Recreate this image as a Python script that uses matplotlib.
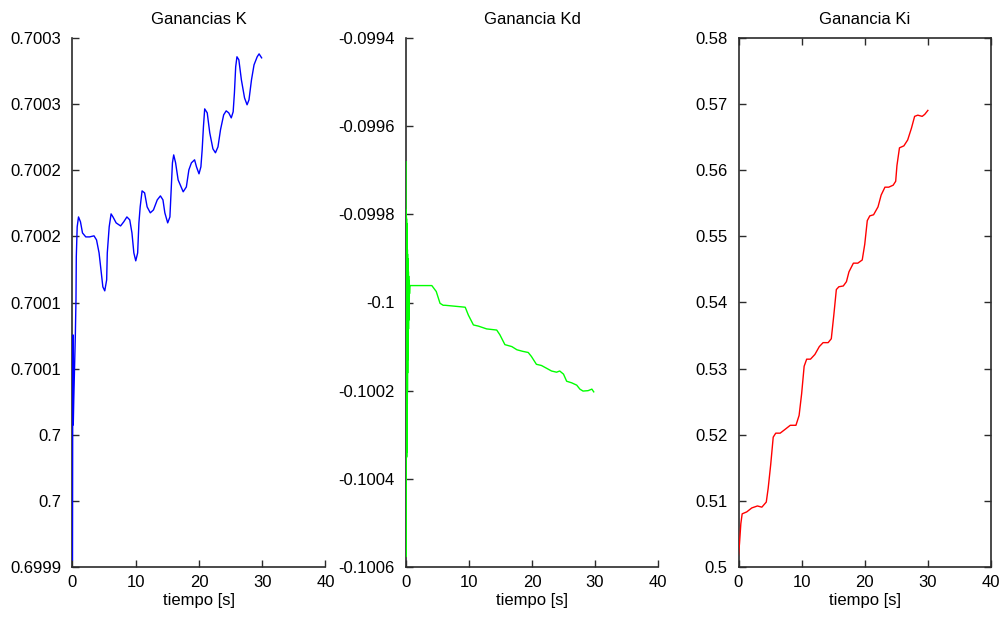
import numpy as np
import matplotlib
matplotlib.use("Agg")
import matplotlib.pyplot as plt

plt.rcParams['font.family'] = ['Liberation Sans', 'DejaVu Sans']

# Ganancia K (blue)
k_t = [0, 0.03, 0.08, 0.12, 0.2, 0.45, 0.55, 0.6, 0.74, 0.95, 1.26, 1.58, 2.1, 2.7, 3.4,
       3.8, 4.2, 4.5, 4.8, 5.1, 5.4, 5.5, 5.8, 6.1, 6.4, 6.9, 7.6, 8.1, 8.6, 9.05,
       9.4, 9.7, 10.0, 10.3, 10.5, 10.7, 11.0, 11.4, 11.8, 12.3, 12.8, 13.4, 13.9, 14.3,
       14.6, 15.05, 15.4, 15.6, 15.8, 16.0, 16.3, 16.7, 17.5, 18.0, 18.4, 18.8, 19.3,
       19.6, 20.0, 20.3, 20.5, 20.7, 20.9, 21.3, 21.7, 22.2, 22.6, 23.0, 23.4, 23.9,
       24.3, 24.7, 25.1, 25.4, 25.6, 25.8, 26.0, 26.3, 26.7, 27.2, 27.6, 27.9, 28.3,
       28.7, 29.2, 29.5, 29.9]
k_v = [0.6999053, 0.7000074, 0.7000755, 0.7000074, 0.7000263, 0.7000755, 0.7001020,
       0.7001345, 0.7001572, 0.7001647, 0.7001610, 0.7001526, 0.7001496, 0.7001496,
       0.7001504, 0.7001473, 0.7001375, 0.7001247, 0.7001118, 0.7001088, 0.7001171,
       0.7001375, 0.7001572, 0.7001670, 0.7001647, 0.7001602, 0.7001579, 0.7001610,
       0.7001647, 0.7001625, 0.7001526, 0.7001375, 0.7001315, 0.7001375, 0.7001602,
       0.7001723, 0.7001844, 0.7001829, 0.7001723, 0.7001678, 0.7001700, 0.7001776,
       0.7001806, 0.7001776, 0.7001678, 0.7001602, 0.7001647, 0.7001852, 0.7002056,
       0.7002116, 0.7002056, 0.7001927, 0.7001837, 0.7001874, 0.7002003, 0.7002056,
       0.7002079, 0.7002026, 0.7001973, 0.7002026, 0.7002154, 0.7002328, 0.7002464,
       0.7002434, 0.7002283, 0.7002162, 0.7002132, 0.7002177, 0.7002306, 0.7002419,
       0.7002449, 0.7002434, 0.7002396, 0.7002442, 0.7002585, 0.7002782, 0.7002858,
       0.7002835, 0.7002684, 0.7002547, 0.7002495, 0.7002532, 0.7002684, 0.7002797,
       0.7002858, 0.7002880, 0.7002850]

# Ganancia Kd (green): fast oscillation right after t=0, then slow drift
kd_t = [0, 0.01, 0.02, 0.03, 0.04, 0.05, 0.06, 0.07, 0.08, 0.09, 0.10, 0.11, 0.12,
        0.13, 0.14, 0.15, 0.16, 0.17, 0.18, 0.19, 0.20, 0.21, 0.22, 0.23, 0.24, 0.25,
        0.26, 0.27, 0.28, 0.29, 0.30, 0.32, 0.34, 0.36, 0.38, 0.40, 0.42, 0.44, 0.46,
        0.48, 0.50, 0.52, 0.54, 0.56, 0.6,
        2.0, 4.1, 4.8, 5.4, 5.9, 6.2, 9.4, 9.9, 10.7, 11.5, 12.8, 14.4, 14.9,
        15.7, 16.8, 17.6, 18.5, 19.4, 19.9, 20.7, 21.5, 22.3, 23.1, 23.9, 24.4, 25.0,
        25.5, 26.3, 27.1, 27.6, 28.1, 28.9, 29.5, 29.8]
kd_v = [-0.0996806, -0.1005766, -0.0997900, -0.1005000, -0.0998054, -0.1003527,
        -0.0998054, -0.1003527, -0.0998100, -0.1003500, -0.0998200, -0.1003400,
        -0.0998300, -0.1003300, -0.0998400, -0.1003100, -0.0998500, -0.1002900,
        -0.0998600, -0.1002600, -0.0998700, -0.1002300, -0.0998800, -0.1002000,
        -0.0998900, -0.1001600, -0.0999000, -0.1001300, -0.0999149, -0.1000851,
        -0.0999149, -0.1000851, -0.0999200, -0.1000800, -0.0999300, -0.1000600,
        -0.0999400, -0.1000400, -0.0999500, -0.1000200, -0.0999560, -0.1000000,
        -0.0999600, -0.0999800, -0.0999616,
        -0.0999616, -0.0999616,
        -0.0999750, -0.1000018, -0.1000063, -0.1000063, -0.1000107, -0.1000286,
        -0.1000509, -0.1000536, -0.1000599, -0.1000625, -0.1000732, -0.1000956,
        -0.1001000, -0.1001072, -0.1001107, -0.1001134, -0.1001223, -0.1001402,
        -0.1001429, -0.1001491, -0.1001554, -0.1001581, -0.1001554, -0.1001625,
        -0.1001786, -0.1001822, -0.1001875, -0.1001965, -0.1002009, -0.1002000,
        -0.1001965, -0.1002027]

# Ganancia Ki (red)
ki_t = [0, 0.16, 0.37, 0.58, 1.3, 2.1, 3.0, 3.7, 4.4, 4.7, 5.1, 5.5, 5.9, 6.6, 7.4, 8.2,
        9.1, 9.6, 10.0, 10.4, 10.8, 11.4, 12.1, 12.8, 13.4, 14.2, 14.7, 15.1, 15.5, 15.9,
        16.6, 17.1, 17.5, 18.2, 18.9, 19.6, 20.0, 20.4, 20.8, 21.4, 22.1, 22.6, 23.2,
        23.8, 24.5, 24.9, 25.1, 25.5, 26.2, 26.8, 27.4, 27.9, 28.4, 29.1, 29.5, 30.0]
ki_v = [0.50179, 0.50357, 0.50655, 0.50804, 0.50833, 0.50893, 0.50923, 0.50905, 0.50982,
        0.51190, 0.51548, 0.51964, 0.52024, 0.52024, 0.52083, 0.52143, 0.52143, 0.52292,
        0.52619, 0.53036, 0.53143, 0.53143, 0.53214, 0.53333, 0.53393, 0.53393, 0.53452,
        0.53810, 0.54196, 0.54238, 0.54250, 0.54315, 0.54464, 0.54595, 0.54595, 0.54643,
        0.54881, 0.55238, 0.55310, 0.55327, 0.55446, 0.55625, 0.55744, 0.55744, 0.55774,
        0.55833, 0.56071, 0.56339, 0.56369, 0.56458, 0.56637, 0.56815, 0.56833, 0.56815,
        0.56845, 0.56905]

x_ticks = [0, 10, 20, 30, 40]
k_yticks = [0.6999, 0.69995, 0.7, 0.70005, 0.7001, 0.70015, 0.7002, 0.70025, 0.7003]
k_yticklabels = ['0.6999', '0.7', '0.7', '0.7001', '0.7001', '0.7002', '0.7002', '0.7003', '0.7003']
kd_yticks = [-0.1006, -0.1004, -0.1002, -0.1, -0.0998, -0.0996, -0.0994]
kd_yticklabels = ['-0.1006', '-0.1004', '-0.1002', '-0.1', '-0.0998', '-0.0996', '-0.0994']
ki_yticks = [0.5, 0.51, 0.52, 0.53, 0.54, 0.55, 0.56, 0.57, 0.58]
ki_yticklabels = ['0.5', '0.51', '0.52', '0.53', '0.54', '0.55', '0.56', '0.57', '0.58']

W, H = 1003, 618
fig = plt.figure(figsize=(W / 100, H / 100), dpi=100)
fig.patch.set_facecolor('white')

FS = 12
SPINE = '#2b2b2b'


def make_axes(left, right, top=38, bottom=567):
    return fig.add_axes([left / W, 1 - bottom / H, (right - left) / W, (bottom - top) / H])


def style(ax, box):
    for s in ['top', 'right']:
        ax.spines[s].set_visible(box)
    for s in ax.spines.values():
        s.set_color(SPINE)
        s.set_linewidth(1.2)
    ax.tick_params(direction='in', length=5, width=1, color=SPINE, labelsize=FS,
                   top=box, right=box)
    ax.tick_params(axis='y', pad=8)
    ax.tick_params(axis='x', pad=6)
    ax.set_xlim(0, 40)
    ax.set_xticks(x_ticks)
    ax.set_xlabel('tiempo [s]', fontsize=FS, labelpad=2)


# subplot 1
ax1 = make_axes(72.5, 325.5)
ax1.plot(k_t, k_v, color='#0000ff', lw=1.0, zorder=3)
ax1.set_ylim(0.6999, 0.7003)
ax1.set_yticks(k_yticks)
ax1.set_yticklabels(k_yticklabels)
ax1.set_title('Ganancias K', fontsize=FS, pad=10)
style(ax1, False)

# subplot 2
ax2 = make_axes(406, 658)
ax2.plot(kd_t, kd_v, color='#00ff00', lw=1.0, zorder=3)
ax2.set_ylim(-0.1006, -0.0994)
ax2.set_yticks(kd_yticks)
ax2.set_yticklabels(kd_yticklabels)
ax2.set_title('Ganancia Kd', fontsize=FS, pad=10)
style(ax2, False)

# subplot 3
ax3 = make_axes(738.5, 991)
ax3.plot(ki_t, ki_v, color='#ff0000', lw=1.0, zorder=3)
ax3.set_ylim(0.5, 0.58)
ax3.set_yticks(ki_yticks)
ax3.set_yticklabels(ki_yticklabels)
ax3.set_title('Ganancia Ki', fontsize=FS, pad=10)
style(ax3, True)

plt.savefig('out.png', dpi=100)
